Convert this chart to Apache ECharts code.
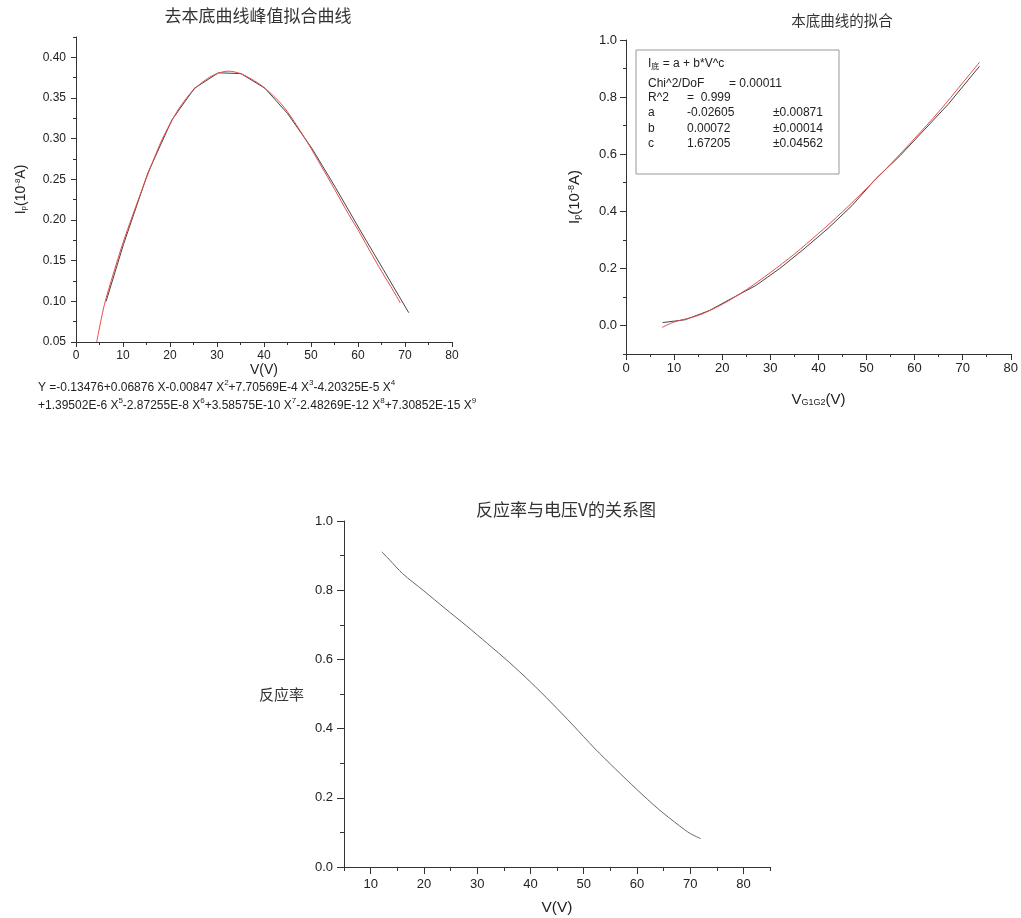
<!DOCTYPE html>
<html><head><meta charset="utf-8">
<script src="https://cdn.jsdelivr.net/npm/echarts@6/dist/echarts.min.js"></script>
<style>html,body{margin:0;padding:0;background:#fff}#c{width:1021px;height:918px}</style>
</head><body><div id="c"></div>
<script>
// ---------- Chart 1: 去本底曲线峰值拟合曲线 ----------
const peakDataX = [6.4, 10.1, 15.3, 20.4, 25.2, 30.3, 35.1, 40.2, 45.0, 50.2, 55.2, 60.3, 65.4, 70.8];
const peakDataY = [0.100, 0.170, 0.258, 0.323, 0.362, 0.381, 0.380, 0.362, 0.331, 0.288, 0.240, 0.189, 0.139, 0.086];
const peakFitX = [4.4, 6, 8, 10, 12, 15, 18, 20, 22, 25, 28, 30, 32.4, 35, 38, 40, 43, 45, 48, 50, 53, 55, 58, 60, 63, 65, 67, 69];
const peakFitY = [0.050, 0.095, 0.135, 0.172, 0.205, 0.252, 0.295, 0.318, 0.338, 0.360, 0.374, 0.380, 0.383, 0.380, 0.371, 0.363, 0.347, 0.333, 0.307, 0.288, 0.258, 0.238, 0.207, 0.188, 0.157, 0.137, 0.118, 0.098];
const c1xLabels = [0, 10, 20, 30, 40, 50, 60, 70, 80];
const c1yLabels = [0.05, 0.10, 0.15, 0.20, 0.25, 0.30, 0.35, 0.40];
const formulaLines = [
  'Y =-0.13476+0.06876 X-0.00847 X{s|2}+7.70569E-4 X{s|3}-4.20325E-5 X{s|4}',
  '+1.39502E-6 X{s|5}-2.87255E-8 X{s|6}+3.58575E-10 X{s|7}-2.48269E-12 X{s|8}+7.30852E-15 X{s|9}'
];

// ---------- Chart 2: 本底曲线的拟合 ----------
const baseDataX = [7.6, 12.3, 17.3, 22, 27, 32, 37, 42, 47, 52, 57, 62, 67, 73.5];
const baseDataY = [0.010, 0.020, 0.052, 0.095, 0.140, 0.200, 0.268, 0.340, 0.420, 0.515, 0.595, 0.685, 0.775, 0.908];
const baseFitX = [7.5, 10, 15, 20, 25, 30, 35, 40, 45, 50, 55, 60, 65, 70, 73.5];
const baseFitY = [-0.007, 0.012, 0.035, 0.074, 0.125, 0.185, 0.250, 0.322, 0.398, 0.480, 0.565, 0.655, 0.748, 0.850, 0.922];
const c2xLabels = [0, 10, 20, 30, 40, 50, 60, 70, 80];
const c2yLabels = [0.0, 0.2, 0.4, 0.6, 0.8, 1.0];
const fitHeader = ['Chi^2/DoF', '= 0.00011'];
const fitR2 = ['R^2', '=  0.999'];
const fitParams = [
  ['a', '-0.02605', '±0.00871'],
  ['b', '0.00072', '±0.00014'],
  ['c', '1.67205', '±0.04562']
];

// ---------- Chart 3: 反应率与电压V的关系图 ----------
const respX = [12.1, 13.6, 16, 20, 24, 28, 32, 36, 40, 44, 48, 52, 56, 60, 64, 68, 70, 72];
const respY = [0.911, 0.887, 0.848, 0.798, 0.747, 0.697, 0.645, 0.592, 0.535, 0.474, 0.410, 0.344, 0.283, 0.224, 0.168, 0.119, 0.097, 0.082];
const c3xLabels = [10, 20, 30, 40, 50, 60, 70, 80];
const c3yLabels = [0.0, 0.2, 0.4, 0.6, 0.8, 1.0];

const zip = (xs, ys) => xs.map((x, i) => [x, ys[i]]);
const FONT = 'Liberation Sans, Arial, sans-serif';
const CJK = 'Noto Sans CJK SC, sans-serif';
const AX = '#333';

function axisPair(dim, grid, min, max, step, labels, majors, digits, fontSize, margin, tickLen, extra) {
  const pos = dim === 'x' ? 'bottom' : 'left';
  const main = Object.assign({
    type: 'value', gridIndex: grid, min: min, max: max, interval: step, position: pos,
    axisLine: { show: true, onZero: false, lineStyle: { color: AX, width: 1 } },
    axisTick: { show: true, length: tickLen[1], lineStyle: { color: AX } },
    axisLabel: { customValues: labels, formatter: v => v.toFixed(digits), color: '#222', fontSize: fontSize, fontFamily: FONT, margin: margin },
    splitLine: { show: false }
  }, extra || {});
  const over = {
    type: 'value', gridIndex: grid, min: min, max: max, position: pos,
    axisLine: { show: false, onZero: false },
    axisTick: { show: true, length: tickLen[0], customValues: majors, lineStyle: { color: AX } },
    axisLabel: { show: false },
    splitLine: { show: false }
  };
  return [main, over];
}

const nameStyle = (size) => ({
  color: '#222', fontFamily: FONT, fontSize: size,
  rich: {
    n: { fontSize: size, fontFamily: FONT, color: '#222' },
    sub: { fontSize: Math.round(size * 0.6), fontFamily: FONT, color: '#222', verticalAlign: 'bottom' },
    sup: { fontSize: Math.round(size * 0.6), fontFamily: FONT, color: '#222', verticalAlign: 'top' }
  }
});

const x1 = axisPair('x', 0, 0, 80, 5, c1xLabels, c1xLabels, 0, 12, 8, [5, 3],
  { name: 'V(V)', nameLocation: 'middle', nameGap: 21, nameTextStyle: nameStyle(14) });
const y1 = axisPair('y', 0, 0.05, 0.425, 0.025, c1yLabels, c1yLabels, 2, 12, 10, [5, 3],
  { name: '{n|I}{sub|p}{n|(10}{sup|-8}{n|A)}', nameLocation: 'middle', nameRotate: 90, nameGap: 48, nameTextStyle: nameStyle(14) });
const x2 = axisPair('x', 1, 0, 80, 5, c2xLabels, c2xLabels, 0, 13, 8, [6, 3],
  { name: '{n|V}{sub|G1G2}{n|(V)}', nameLocation: 'middle', nameGap: 38, nameTextStyle: nameStyle(15) });
const y2 = axisPair('y', 1, -0.1, 1.0, 0.1, c2yLabels, c2yLabels, 1, 13, 9, [6, 3],
  { name: '{n|I}{sub|p}{n|(10}{sup|-8}{n|A)}', nameLocation: 'middle', nameRotate: 90, nameGap: 44, nameTextStyle: nameStyle(15) });
const x3 = axisPair('x', 2, 5, 85, 5, c3xLabels, c3xLabels, 0, 13, 11, [7, 4],
  { name: 'V(V)', nameLocation: 'middle', nameGap: 33, nameTextStyle: nameStyle(15.5) });
const y3 = axisPair('y', 2, 0, 1.0, 0.1, c3yLabels, c3yLabels, 1, 13, 11, [7, 4],
  { name: '反应率', nameLocation: 'middle', nameRotate: 0, nameGap: 40,
    nameTextStyle: { color: '#333', fontFamily: CJK, fontSize: 15, align: 'right', padding: [0, 0, 22, 0] } });

const titleStyle = (size) => ({ color: '#333', fontFamily: CJK, fontSize: size, fontWeight: 'normal' });

const legendChildren = [
  { type: 'rect', shape: { x: 0, y: 0, width: 203, height: 124 }, style: { fill: '#fff', stroke: '#999', lineWidth: 1 } },
  { type: 'text', x: 12, y: 14, style: { text: '{n|I}{sub|底}{n| = a + b*V^c}', verticalAlign: 'middle',
      rich: { n: { fontSize: 12, fontFamily: FONT, fill: '#222' }, sub: { fontSize: 8, fontFamily: CJK, fill: '#222', verticalAlign: 'bottom' } } } },
  { type: 'text', x: 12, y: 34, style: { text: fitHeader[0], fontSize: 12, fontFamily: FONT, fill: '#222', verticalAlign: 'middle' } },
  { type: 'text', x: 93, y: 34, style: { text: fitHeader[1], fontSize: 12, fontFamily: FONT, fill: '#222', verticalAlign: 'middle' } },
  { type: 'text', x: 12, y: 48, style: { text: fitR2[0], fontSize: 12, fontFamily: FONT, fill: '#222', verticalAlign: 'middle' } },
  { type: 'text', x: 51, y: 48, style: { text: fitR2[1], fontSize: 12, fontFamily: FONT, fill: '#222', verticalAlign: 'middle' } }
];
fitParams.forEach((row, i) => {
  const yy = 63 + i * 15.3;
  legendChildren.push({ type: 'text', x: 12, y: yy, style: { text: row[0], fontSize: 12, fontFamily: FONT, fill: '#222', verticalAlign: 'middle' } });
  legendChildren.push({ type: 'text', x: 51, y: yy, style: { text: row[1], fontSize: 12, fontFamily: FONT, fill: '#222', verticalAlign: 'middle' } });
  legendChildren.push({ type: 'text', x: 137, y: yy, style: { text: row[2], fontSize: 12, fontFamily: FONT, fill: '#222', verticalAlign: 'middle' } });
});

const option = {
  backgroundColor: '#fff',
  animation: false,
  title: [
    { text: '去本底曲线峰值拟合曲线', left: 258, top: 7, textAlign: 'center', padding: 0, textStyle: titleStyle(17) },
    { text: '本底曲线的拟合', left: 842, top: 13, textAlign: 'center', padding: 0, textStyle: titleStyle(14.5) },
    { text: '反应率与电压V的关系图', left: 566, top: 501, textAlign: 'center', padding: 0, textStyle: titleStyle(17) }
  ],
  grid: [
    { left: 76, top: 37, width: 376, height: 305 },
    { left: 626, top: 40, width: 388, height: 314 },
    { left: 344, top: 521, width: 426, height: 346 }
  ],
  xAxis: [x1[0], x1[1], x2[0], x2[1], x3[0], x3[1]],
  yAxis: [y1[0], y1[1], y2[0], y2[1], y3[0], y3[1]],
  series: [
    { type: 'line', name: 'peak data', xAxisIndex: 0, yAxisIndex: 0, data: zip(peakDataX, peakDataY), showSymbol: false, lineStyle: { color: '#444', width: 1 } },
    { type: 'line', name: 'peak fit', xAxisIndex: 0, yAxisIndex: 0, data: zip(peakFitX, peakFitY), showSymbol: false, smooth: 0.3, lineStyle: { color: '#e84a4a', width: 1 } },
    { type: 'line', name: 'base data', xAxisIndex: 2, yAxisIndex: 2, data: zip(baseDataX, baseDataY), showSymbol: false, lineStyle: { color: '#444', width: 1 } },
    { type: 'line', name: 'base fit', xAxisIndex: 2, yAxisIndex: 2, data: zip(baseFitX, baseFitY), showSymbol: false, smooth: 0.3, lineStyle: { color: '#e84a4a', width: 1 } },
    { type: 'line', name: '反应率', xAxisIndex: 4, yAxisIndex: 4, data: zip(respX, respY), showSymbol: false, smooth: 0.3, lineStyle: { color: '#666', width: 1 } }
  ],
  graphic: [
    { type: 'group', x: 636, y: 50, children: legendChildren },
    { type: 'text', x: 38, y: 379, style: { text: formulaLines.join('\n'), fill: '#222', fontSize: 12, fontFamily: FONT, lineHeight: 18,
        rich: { s: { fontSize: 8, fontFamily: FONT, fill: '#222', verticalAlign: 'top', lineHeight: 18 } } } }
  ]
};

const chart = echarts.init(document.getElementById('c'), null, { renderer: 'canvas' });
chart.setOption(option);
</script>
</body></html>
